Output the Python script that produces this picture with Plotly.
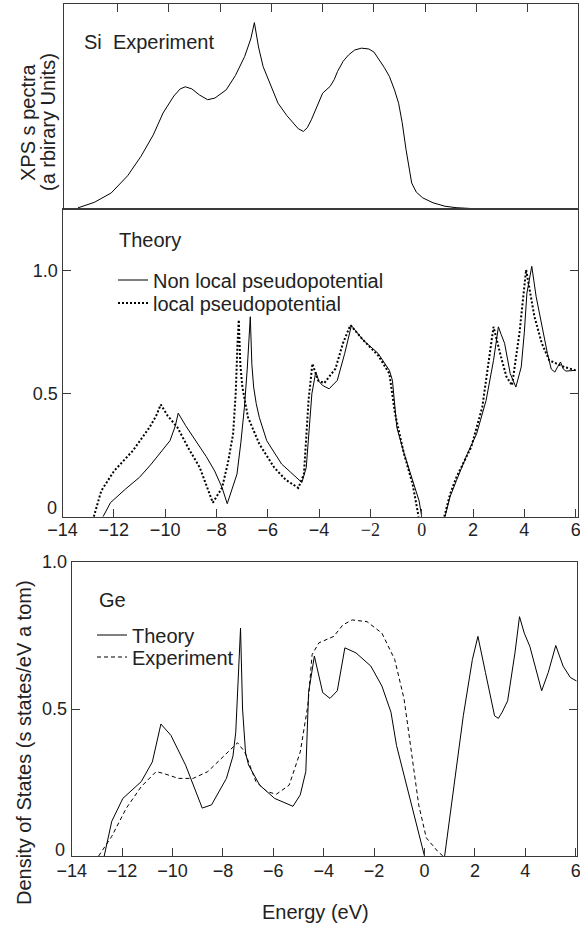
import plotly.graph_objects as go

# ---------------- data ----------------
# Si XPS experiment (top panel, arbitrary units)
si_xps_E = [-13.54, -12.9, -12.24, -11.6, -11.08, -10.6, -10.22, -9.8, -9.55, -9.35, -9.1, -8.8, -8.48, -8.2,
            -7.76, -7.4, -7.04, -6.8, -6.66, -6.5, -6.32, -6.0, -5.74, -5.4, -5.16, -4.95, -4.75, -4.6, -4.44,
            -4.2, -4.0, -3.71, -3.55, -3.42, -3.2, -2.99, -2.75, -2.49, -2.2, -2.0, -1.84, -1.6, -1.40, -1.2,
            -1.04, -0.9, -0.75, -0.6, -0.53, -0.35, -0.10, 0.3, 0.77, 1.2, 1.78]
si_xps_I = [0.003, 0.03, 0.076, 0.16, 0.255, 0.36, 0.467, 0.55, 0.585, 0.595, 0.585, 0.555, 0.532, 0.54,
            0.58, 0.65, 0.743, 0.83, 0.909, 0.79, 0.694, 0.6, 0.515, 0.455, 0.418, 0.39, 0.377, 0.395, 0.434,
            0.51, 0.564, 0.597, 0.63, 0.670, 0.72, 0.751, 0.775, 0.784, 0.780, 0.765, 0.735, 0.69, 0.646, 0.58,
            0.515, 0.42, 0.288, 0.17, 0.125, 0.08, 0.052, 0.028, 0.011, 0.004, 0.0]

# Si theory, non-local pseudopotential (solid)
si_nl_val_E = [-12.42, -12.13, -11.55, -11.0, -10.54, -10.1, -9.81, -9.6, -9.49, -9.2, -8.80, -8.4, -8.07,
               -7.78, -7.58, -7.4, -7.20, -7.05, -6.91, -6.8, -6.72, -6.68, -6.62, -6.55, -6.45, -6.33, -6.04,
               -5.75, -5.46, -5.1, -4.67, -4.50, -4.35, -4.28, -4.13, -4.0, -3.87, -3.61, -3.29, -3.0, -2.74,
               -2.28, -1.70, -1.26, -1.14, -0.97, -0.68, -0.32, -0.10, 0.0]
si_nl_val_D = [0.0, 0.057, 0.112, 0.16, 0.214, 0.27, 0.309, 0.37, 0.421, 0.37, 0.309, 0.245, 0.186,
               0.118, 0.053, 0.11, 0.173, 0.30, 0.445, 0.60, 0.75, 0.813, 0.62, 0.527, 0.46, 0.404, 0.309,
               0.26, 0.214, 0.18, 0.139, 0.2, 0.40, 0.50, 0.588, 0.55, 0.534, 0.52, 0.554, 0.664, 0.777,
               0.718, 0.664, 0.595, 0.554, 0.363, 0.255, 0.132, 0.064, 0.0]
si_nl_con_E = [0.91, 1.1, 1.35, 1.78, 2.14, 2.51, 2.80, 2.99, 3.1, 3.23, 3.45, 3.67, 3.88, 4.0, 4.10, 4.29,
               4.46, 4.68, 4.90, 5.05, 5.19, 5.3, 5.41, 5.52, 5.62, 6.0]
si_nl_con_D = [0.0, 0.08, 0.146, 0.256, 0.337, 0.473, 0.636, 0.772, 0.74, 0.705, 0.582, 0.527, 0.609, 0.75,
               0.909, 1.018, 0.895, 0.772, 0.664, 0.6, 0.588, 0.61, 0.629, 0.6, 0.592, 0.595]

# Si theory, local pseudopotential (dotted)
si_l_val_E = [-12.78, -12.49, -11.99, -11.26, -10.61, -10.35, -10.17, -9.9, -9.52, -9.1, -8.65, -8.4, -8.14,
              -7.78, -7.55, -7.35, -7.25, -7.18, -7.13, -7.07, -6.99, -6.77, -6.33, -5.75, -5.3, -4.81, -4.59,
              -4.41, -4.26, -4.04, -3.80, -3.36, -3.07, -2.78, -2.28, -1.70, -1.26, -1.04, -0.7, -0.35, -0.12]
si_l_val_D = [0.0, 0.105, 0.186, 0.268, 0.363, 0.41, 0.456, 0.41, 0.363, 0.28, 0.2, 0.13, 0.057,
              0.118, 0.22, 0.337, 0.5, 0.7, 0.80, 0.62, 0.527, 0.404, 0.296, 0.2, 0.15, 0.117, 0.174,
              0.473, 0.622, 0.554, 0.543, 0.602, 0.705, 0.779, 0.718, 0.656, 0.582, 0.419, 0.26, 0.13, 0.0]
si_l_con_E = [0.88, 1.1, 1.35, 1.93, 2.36, 2.62, 2.80, 3.09, 3.3, 3.52, 3.81, 4.07, 4.39, 4.68, 4.97, 5.26,
              5.55, 6.0]
si_l_con_D = [0.0, 0.09, 0.16, 0.283, 0.445, 0.636, 0.772, 0.65, 0.57, 0.534, 0.747, 1.004, 0.815, 0.705,
              0.636, 0.622, 0.609, 0.595]

# Ge theory (solid)
ge_th_val_E = [-12.71, -12.41, -11.97, -11.24, -10.80, -10.46, -10.06, -9.48, -8.82, -8.45, -7.86, -7.6,
               -7.49, -7.38, -7.30, -7.22, -7.10, -6.98, -6.54, -5.95, -5.22, -4.93, -4.71, -4.60, -4.37,
               -4.04, -3.75, -3.46, -3.16, -2.72, -2.13, -1.69, -1.33, -1.11, -0.67, -0.30, 0.0]
ge_th_val_D = [0.0, 0.118, 0.196, 0.253, 0.32, 0.449, 0.41, 0.309, 0.163, 0.174, 0.264, 0.34,
               0.421, 0.6, 0.775, 0.5, 0.35, 0.309, 0.241, 0.196, 0.169, 0.208, 0.287, 0.556, 0.68,
               0.556, 0.536, 0.562, 0.708, 0.691, 0.646, 0.578, 0.489, 0.376, 0.23, 0.107, 0.0]
ge_th_con_E = [0.80, 1.17, 1.54, 1.90, 2.12, 2.42, 2.78, 2.93, 3.08, 3.30, 3.59, 3.77, 3.96, 4.18, 4.40,
               4.65, 4.91, 5.21, 5.50, 5.79, 6.04]
ge_th_con_D = [0.0, 0.23, 0.477, 0.668, 0.747, 0.624, 0.477, 0.468, 0.489, 0.528, 0.691, 0.814, 0.758,
               0.713, 0.646, 0.562, 0.624, 0.716, 0.646, 0.607, 0.595]

# Ge experiment (dashed)
ge_ex_E = [-12.93, -12.41, -11.83, -11.24, -10.65, -10.36, -9.77, -9.18, -8.60, -8.01, -7.42, -7.13, -6.69,
           -6.25, -5.88, -5.37, -4.93, -4.63, -4.46, -4.19, -3.60, -3.24, -2.87, -2.28, -1.69, -1.18, -0.81,
           -0.52, -0.23, 0.07, 0.51, 0.73]
ge_ex_D = [0.0, 0.067, 0.163, 0.236, 0.287, 0.281, 0.264, 0.264, 0.287, 0.337, 0.385, 0.354, 0.253,
           0.219, 0.21, 0.241, 0.354, 0.511, 0.685, 0.725, 0.747, 0.786, 0.803, 0.797, 0.758, 0.668, 0.534,
           0.354, 0.174, 0.062, 0.017, 0.0]

x_tick_vals = [-14, -12, -10, -8, -6, -4, -2, 0, 2, 4, 6]
x_tick_text = ["\u221214", "\u221212", "\u221210", "\u22128", "\u22126", "\u22124", "\u22122", "0", "2", "4", "6"]
y_tick_vals = [0.5, 1.0]
y_tick_text = ["0.5", "1.0"]
y_zero_text = "0"

# ---------------- layout helpers ----------------
W, H = 580, 926
def px(x):
    return x / W
def py(y):
    return 1 - y / H

FONT = "Liberation Sans, Arial, Helvetica, sans-serif"
SERIF = "Liberation Serif, Times New Roman, serif"
AX = "#3a3a3a"
TXT = "#222"

def join(a, b):
    return a + [None] + b

fig = go.Figure()

fig.add_trace(go.Scatter(x=si_xps_E, y=si_xps_I, mode="lines", line=dict(color="black", width=1),
                         xaxis="x", yaxis="y", showlegend=False))
fig.add_trace(go.Scatter(x=join(si_nl_val_E, si_nl_con_E), y=join(si_nl_val_D, si_nl_con_D), mode="lines",
                         line=dict(color="black", width=1), name="Non local pseudopotential",
                         xaxis="x2", yaxis="y2", legend="legend", connectgaps=False))
fig.add_trace(go.Scatter(x=join(si_l_val_E, si_l_con_E), y=join(si_l_val_D, si_l_con_D), mode="lines",
                         line=dict(color="black", width=2, dash="2px,2px"), name="local pseudopotential",
                         xaxis="x2", yaxis="y2", legend="legend3", connectgaps=False))
fig.add_trace(go.Scatter(x=join(ge_th_val_E, ge_th_con_E), y=join(ge_th_val_D, ge_th_con_D), mode="lines",
                         line=dict(color="black", width=1), name="Theory",
                         xaxis="x3", yaxis="y3", legend="legend2", connectgaps=False))
fig.add_trace(go.Scatter(x=ge_ex_E, y=ge_ex_D, mode="lines",
                         line=dict(color="black", width=1, dash="4px,3px"), name="Experiment",
                         xaxis="x3", yaxis="y3", legend="legend4"))

common_x = dict(showgrid=False, zeroline=False, linecolor=AX, linewidth=1,
                ticks="inside", ticklen=8, tickcolor=AX, tickwidth=1, automargin=False,
                ticklabeloverflow="allow", tickfont=dict(family=FONT, size=18, color=TXT))
common_y = dict(showgrid=False, zeroline=False, ticks="inside", ticklen=8, tickcolor=AX,
                linecolor=AX, linewidth=1, automargin=False,
                tickfont=dict(family=FONT, size=18, color=TXT))

mid_tick_text = [t if t not in ("\u22122", "0") else
                 '<span style="font-family:%s">%s</span>' % (SERIF, t) for t in x_tick_text]

def leg(x, y):
    return dict(x=px(x), y=py(y), xanchor="left", yanchor="middle", bgcolor="rgba(0,0,0,0)",
                font=dict(family=FONT, size=20, color=TXT), itemwidth=30, tracegroupgap=0,
                borderwidth=0)

layout = dict(
    template="none",
    width=W, height=H, margin=dict(l=0, r=0, t=0, b=0, pad=0),
    paper_bgcolor="white", plot_bgcolor="white",
    font=dict(family=FONT, size=20, color=TXT),
    xaxis=dict(common_x, domain=[px(64), px(577.7)], range=[-14.08, 5.94], anchor="y", side="top",
               mirror=True, showticklabels=False, tickvals=x_tick_vals[1:-1]),
    yaxis=dict(domain=[py(208.5), py(4)], range=[0, 1], showgrid=False, zeroline=False, showticklabels=False,
               ticks="", linecolor=AX, linewidth=1, mirror=True, anchor="x", automargin=False),
    xaxis2=dict(common_x, domain=[px(62.5), px(577.7)], range=[-14.0, 6.08], anchor="y2", mirror=True,
                tickvals=x_tick_vals, ticktext=mid_tick_text, ticklabelstandoff=-3),
    yaxis2=dict(common_y, domain=[py(516.7), py(208.5)], range=[0, 1.253], tickvals=y_tick_vals,
                ticktext=y_tick_text, mirror="ticks", anchor="x2"),
    xaxis3=dict(common_x, domain=[px(71.7), px(576.7)], range=[-14.0, 6.04], anchor="y3", mirror=True,
                tickvals=x_tick_vals, ticktext=x_tick_text, ticklabelstandoff=-2),
    yaxis3=dict(common_y, domain=[py(856), py(562)], range=[0, 1], tickvals=y_tick_vals,
                ticktext=y_tick_text, mirror="ticks", anchor="x3"),
    legend=leg(113, 280),
    legend3=leg(113, 303),
    legend2=leg(92, 635),
    legend4=leg(92, 657),
)
fig.update_layout(**layout)

def ann(text, x, y, xanchor="left", angle=0, size=20):
    fig.add_annotation(text=text, x=px(x), y=py(y), xref="paper", yref="paper", showarrow=False,
                       xanchor=xanchor, yanchor="middle", textangle=angle,
                       font=dict(family=FONT, size=size, color=TXT))

ann("Si\u00a0 Experiment", 82, 42)
ann("Theory", 117, 240)
ann("Ge", 97, 600)
ann(y_zero_text, 59, 508, xanchor="right", size=18)
ann(y_zero_text, 67, 850, xanchor="right", size=18)
ann("XPS s pectra", 28, 122, xanchor="center", angle=-90)
ann("(a rbirary Units)", 48, 122, xanchor="center", angle=-90)
ann("Density of States (s states/eV a tom)", 24, 743, xanchor="center", angle=-90)
ann("Energy (eV)", 315, 912, xanchor="center")

fig.write_html("out.html", config={"displayModeBar": False},
               post_script="document.body.style.margin='0';document.body.style.overflow='hidden';")
